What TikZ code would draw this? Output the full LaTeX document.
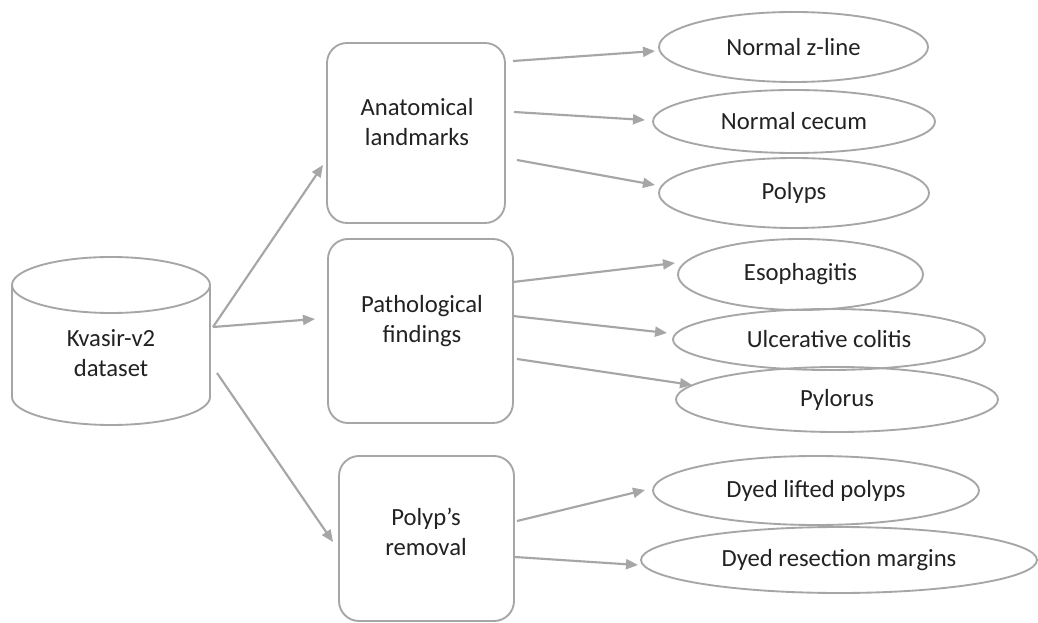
\documentclass[tikz,border=0pt]{standalone}
\usepackage{fontspec}
\setmainfont{Carlito}
\usetikzlibrary{shapes.geometric,arrows.meta,calc}
\definecolor{ln}{HTML}{A6A6A6}
\definecolor{tx}{HTML}{222222}
\begin{document}
\begin{tikzpicture}[x=0.75pt,y=-0.75pt,
  every node/.style={font=\fontsize{18.5}{22.5}\selectfont, text=tx},
  box/.style={draw=ln,line width=1.4pt,rounded corners=15pt,inner sep=0pt},
  oval/.style={draw=ln,line width=1.4pt,ellipse,inner sep=0pt},
  lbl/.style={align=center,inner sep=0pt},
  shapeline/.style={draw=ln,line width=1.4pt},
  conn/.style={draw=ln,line width=1.6pt,-{Triangle[length=9pt,width=7.5pt]}}]
\useasboundingbox (0,0) rectangle (1038,623);
\fill[white] (0,0) rectangle (1038,623);

% cylinder
\draw[shapeline] (111,285) ellipse [x radius=99, y radius=28];
\draw[shapeline] (12,285) -- (12,397) arc[start angle=180, end angle=0, x radius=99, y radius=28] -- (210,285);
\node[lbl] (db) at (111,353) {Kvasir-v2\\dataset};

% category boxes
\node[box, minimum width=133.5pt, minimum height=135pt] (anat) at (416,133) {};
\node[lbl] (anatT) at (417,122) {Anatomical\\landmarks};
\node[box, minimum width=138.75pt, minimum height=138pt] (path) at (420.5,331) {};
\node[lbl] (pathT) at (422,321) {Pathological\\findings};
\node[box, minimum width=131.25pt, minimum height=123.75pt] (rem) at (426.5,538.5) {};
\node[lbl] (remT) at (426,532) {Polyp’s\\removal};

% classes
\node[oval, minimum width=201.75pt, minimum height=52.5pt] (zline) at (793.5,47) {Normal z-line};
\node[oval, minimum width=211.5pt, minimum height=47.25pt] (cecum) at (794,121.5) {Normal cecum};
\node[oval, minimum width=202.5pt, minimum height=52.5pt] (polyps) at (794,193) {Polyps};
\node[oval, minimum width=183.75pt, minimum height=53.25pt] (esoph) at (800.5,274.5) {Esophagitis};
\node[oval, minimum width=234pt, minimum height=45.75pt] (uc) at (829,339.5) {Ulcerative colitis};
\node[oval, minimum width=241.5pt, minimum height=48.75pt] (pyl) at (837,399.5) {Pylorus};
\node[oval, minimum width=244.5pt, minimum height=51.75pt] (dlp) at (816,490.5) {Dyed lifted polyps};
\node[oval, minimum width=297pt, minimum height=49.5pt] (drm) at (839,560) {Dyed resection margins};

% connectors
\draw[conn] ($(db)+(102,-26)$) -- ($(anat)+(-93,32)$);
\draw[conn] ($(db)+(102,-26)$) -- ($(path)+(-105.5,-12)$);
\draw[conn] ($(db)+(106,20)$) -- ($(rem)+(-93.5,3.5)$);

\draw[conn] ($(anat)+(97,-72)$) -- ($(zline)+(-138.5,4)$);
\draw[conn] ($(anat)+(98,-21)$) -- ($(cecum)+(-149,-1.5)$);
\draw[conn] ($(anat)+(101,27)$) -- ($(polyps)+(-139,-8)$);

\draw[conn] ($(path)+(92.5,-49)$) -- ($(esoph)+(-125.5,-11.5)$);
\draw[conn] ($(path)+(92.5,-15)$) -- ($(uc)+(-162,-6.5)$);
\draw[conn] ($(path)+(96.5,28)$) -- ($(pyl)+(-145,-14.5)$);

\draw[conn] ($(rem)+(90.5,-17.5)$) -- ($(dlp)+(-171,-0.5)$);
\draw[conn] ($(rem)+(88.5,18.5)$) -- ($(drm)+(-201,5)$);
\end{tikzpicture}
\end{document}
